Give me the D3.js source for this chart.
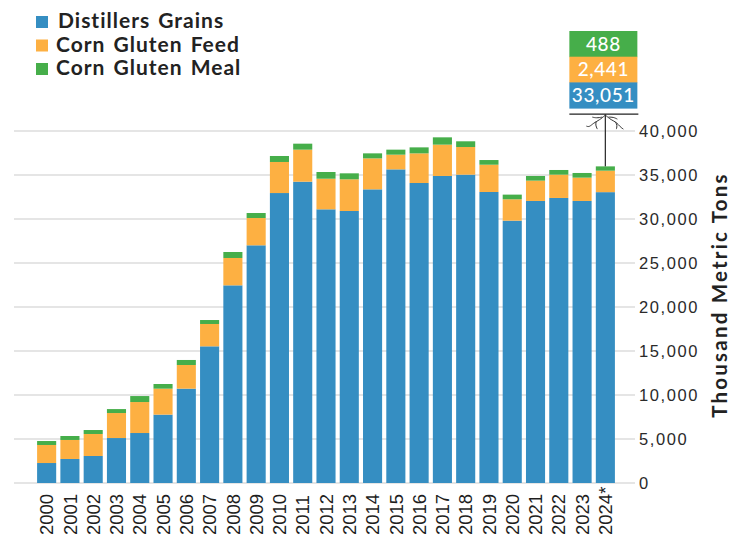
<!DOCTYPE html>
<html>
<head>
<meta charset="utf-8">
<script src="https://cdn.jsdelivr.net/npm/d3@7"></script>
<style>
  body { margin: 0; background: #fff; }
  svg { display: block; font-family: Lato, "Noto Sans", sans-serif; }
</style>
</head>
<body>
<svg id="chart"></svg>
<script>
// years on the x axis, 2024 is a forecast
var years = ["2000","2001","2002","2003","2004","2005","2006","2007","2008","2009","2010","2011","2012",
             "2013","2014","2015","2016","2017","2018","2019","2020","2021","2022","2023","2024*"];

// thousand metric tons (2024 from the callout)
var distillersGrains = [2270, 2730, 3070, 5110, 5680, 7770, 10720, 15530, 22460, 27010, 32950, 34240, 31100,
                        30910, 33370, 35640, 34090, 34890, 35040, 33070, 29810, 32050, 32390, 32050, 33051];
var cornGlutenFeed   = [2050, 2160, 2500, 2840, 3520, 2950, 2690, 2540, 3110, 3100, 3530, 3640, 3480,
                        3600, 3520, 1670, 3370, 3560, 3140, 3100, 2430, 2310, 2650, 2650, 2441];
var cornGlutenMeal   = [450, 450, 450, 450, 680, 530, 570, 450, 680, 570, 680, 680, 760,
                        680, 570, 570, 680, 830, 650, 530, 530, 530, 530, 530, 488];

var seriesNames  = ["Distillers Grains", "Corn Gluten Feed", "Corn Gluten Meal"];
var seriesColors = ["#358ec2", "#fdb042", "#46ae4a"];
var yTicks = [0, 5000, 10000, 15000, 20000, 25000, 30000, 35000, 40000];

var width = 743, height = 537;

var svg = d3.select("#chart")
    .attr("width", width)
    .attr("height", height);

var rows = years.map(function(y, i) {
    return { year: y, dg: distillersGrains[i], cgf: cornGlutenFeed[i], cgm: cornGlutenMeal[i] };
});

var keys = ["dg", "cgf", "cgm"];
var stacked = d3.stack().keys(keys)(rows);

var x = d3.scaleBand()
    .domain(years)
    .range([35, 617])
    .paddingInner(0.18)
    .paddingOuter(0.09);

var y = d3.scaleLinear()
    .domain([0, 40000])
    .range([483, 131]);

// gridlines
svg.append("g")
    .selectAll("line")
    .data(yTicks)
    .enter()
    .append("line")
    .attr("x1", 14)
    .attr("x2", 635)
    .attr("y1", function(d) { return y(d); })
    .attr("y2", function(d) { return y(d); })
    .attr("stroke", "#dcdcdc")
    .attr("stroke-width", 1.6);

// y axis on the right, labels only
var yAxis = d3.axisRight(y)
    .tickValues(yTicks)
    .tickSize(0)
    .tickPadding(0)
    .tickFormat(d3.format(","));

var yg = svg.append("g")
    .attr("transform", "translate(639,0)")
    .call(yAxis);
yg.select(".domain").remove();
yg.selectAll("text")
    .attr("fill", "#2a2a2a")
    .style("font-size", "16.5px")
    .style("letter-spacing", "1.6px")
    .style("font-weight", 500);

svg.append("text")
    .attr("transform", "translate(727,295) rotate(-90)")
    .attr("text-anchor", "middle")
    .attr("fill", "#222")
    .style("font-size", "20.5px")
    .style("letter-spacing", "2.2px")
    .style("font-weight", 700)
    .text("Thousand Metric Tons");

// bars
svg.append("g")
    .selectAll("g")
    .data(stacked)
    .enter()
    .append("g")
    .attr("fill", function(d, i) { return seriesColors[i]; })
    .selectAll("rect")
    .data(function(d) { return d; })
    .enter()
    .append("rect")
    .attr("x", function(d) { return x(d.data.year); })
    .attr("width", x.bandwidth())
    .attr("y", function(d) { return y(d[1]); })
    .attr("height", function(d) { return y(d[0]) - y(d[1]); });

// x axis labels, rotated, read from the bottom edge up
var xAxis = d3.axisBottom(x).tickSize(0).tickPadding(0);
var xg = svg.append("g")
    .attr("transform", "translate(0,535)")
    .call(xAxis);
xg.select(".domain").remove();
xg.selectAll("text")
    .attr("transform", "rotate(-90)")
    .attr("text-anchor", "start")
    .attr("dy", "0.36em")
    .attr("x", 0)
    .attr("y", 0)
    .attr("fill", "#1e1e1e")
    .style("font-size", "18.5px")
    .style("font-weight", 500);

// legend
var legend = svg.append("g")
    .selectAll("g")
    .data(seriesNames)
    .enter()
    .append("g")
    .attr("transform", function(d, i) { return "translate(36," + (16 + i * 23.5) + ")"; });

legend.append("rect")
    .attr("width", 12)
    .attr("height", 12)
    .attr("fill", function(d, i) { return seriesColors[i]; });

legend.append("text")
    .attr("x", function(d, i) { return i == 0 ? 22 : 20; })
    .attr("y", 12)
    .attr("fill", "#222")
    .style("font-size", "21px")
    .style("letter-spacing", "1px")
    .style("word-spacing", "2px")
    .style("font-weight", 700)
    .text(function(d) { return d; });

// callout for last year
var last = rows.length - 1;
var cx = x(years[last]) + x.bandwidth() / 2;
var boxW = 68, boxH = 25.7, boxTop = 31;
var callVals = [cornGlutenMeal[last], cornGlutenFeed[last], distillersGrains[last]];
var callColors = [seriesColors[2], seriesColors[1], seriesColors[0]];

var callout = svg.append("g");
callout.selectAll("rect")
    .data(callVals)
    .enter()
    .append("rect")
    .attr("x", cx - 36)
    .attr("y", function(d, i) { return boxTop + i * boxH; })
    .attr("width", boxW)
    .attr("height", boxH + 0.5)
    .attr("fill", function(d, i) { return callColors[i]; });

callout.selectAll("text")
    .data(callVals)
    .enter()
    .append("text")
    .attr("x", cx - 2)
    .attr("y", function(d, i) { return boxTop + i * boxH + boxH / 2; })
    .attr("dy", "0.36em")
    .attr("text-anchor", "middle")
    .attr("fill", "#fff")
    .style("font-size", "19px")
    .style("letter-spacing", "0.6px")
    .style("font-weight", 500)
    .text(function(d) { return d3.format(",")(d); });

var lineTop = boxTop + 3 * boxH + 6;
var total = distillersGrains[last] + cornGlutenFeed[last] + cornGlutenMeal[last];

callout.append("line")
    .attr("x1", cx - 36).attr("x2", cx + 33)
    .attr("y1", lineTop).attr("y2", lineTop)
    .attr("stroke", "#222").attr("stroke-width", 1.3);

callout.append("line")
    .attr("x1", cx).attr("x2", cx)
    .attr("y1", lineTop).attr("y2", y(total))
    .attr("stroke", "#333").attr("stroke-width", 1.3);

// hand drawn arrow head with small squiggles
var scribble = d3.line().curve(d3.curveBasis);
var strokes = [
    [[0, 0], [-6, 5], [-12, 8], [-16, 12], [-19, 11]],
    [[0, 0], [6, 5], [11, 7], [15, 12], [18, 14]],
    [[-3, 2], [-9, 3], [-13, 2]],
    [[3, 2], [8, 2], [12, 4]],
    [[-9, 6], [-10, 10], [-8, 14]],
    [[10, 7], [12, 10], [11, 14]]
];
callout.selectAll("path")
    .data(strokes)
    .enter()
    .append("path")
    .attr("transform", "translate(" + cx + "," + (lineTop + 1) + ")")
    .attr("d", function(d) { return scribble(d); })
    .attr("fill", "none")
    .attr("stroke", "#333")
    .attr("stroke-width", 1);
</script>
</body>
</html>
